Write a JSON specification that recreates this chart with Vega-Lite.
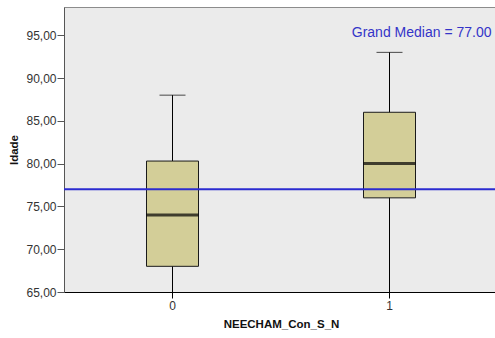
{
  "$schema": "https://vega.github.io/schema/vega-lite/v6.json",
  "width": 434,
  "height": 285,
  "autosize": {"type": "none"},
  "padding": {"left": 64, "top": 7, "right": 0, "bottom": 46},
  "background": "#ffffff",
  "config": {
    "font": "Liberation Sans",
    "view": {"fill": "#ebebeb", "stroke": "#8c8c8c", "strokeWidth": 1},
    "axis": {
      "labelFont": "Liberation Sans",
      "titleFont": "Liberation Sans",
      "labelFontSize": 12,
      "labelColor": "#333333",
      "titleFontSize": 11.5,
      "titleFontWeight": "bold",
      "titleColor": "#111111",
      "grid": false,
      "tickSize": 7
    }
  },
  "datasets": {
    "boxes": [
      {"grupo": "0", "lower": 65, "q1": 68, "median": 74, "q3": 80.3, "upper": 88},
      {"grupo": "1", "lower": 65, "q1": 76, "median": 80, "q3": 86, "upper": 93}
    ],
    "grand": [
      {"grupo": "1", "median": 77}
    ]
  },
  "layer": [
    {
      "data": {"name": "boxes"},
      "mark": {"type": "rule", "color": "#000000", "strokeWidth": 1},
      "encoding": {
        "x": {
          "field": "grupo",
          "type": "nominal",
          "scale": {"type": "band", "domain": ["0", "1"], "paddingInner": 0, "paddingOuter": 0},
          "axis": {
            "title": "NEECHAM_Con_S_N",
            "labelAngle": 0,
            "labelPadding": 2,
            "titlePadding": 7,
            "domainColor": "#000000",
            "tickColor": "#000000",
            "tickSize": 6
          }
        },
        "y": {
          "field": "lower",
          "type": "quantitative",
          "scale": {"domain": [65, 98.3], "nice": false, "zero": false},
          "axis": {
            "title": "Idade",
            "values": [65, 70, 75, 80, 85, 90, 95],
            "labelExpr": "replace(format(datum.value, '.2f'), '.', ',')",
            "domainColor": "#555555",
            "tickColor": "#555555",
            "labelPadding": 1,
            "titlePadding": 6
          }
        },
        "y2": {"field": "upper"}
      }
    },
    {
      "data": {"name": "boxes"},
      "mark": {"type": "tick", "color": "#000000", "size": 26, "thickness": 1, "orient": "horizontal"},
      "encoding": {
        "x": {"field": "grupo", "type": "nominal"},
        "y": {"field": "upper", "type": "quantitative"}
      }
    },
    {
      "data": {"name": "boxes"},
      "mark": {"type": "bar", "size": 52, "fill": "#d3ce98", "stroke": "#1a1a1a", "strokeWidth": 1},
      "encoding": {
        "x": {"field": "grupo", "type": "nominal"},
        "y": {"field": "q1", "type": "quantitative"},
        "y2": {"field": "q3"}
      }
    },
    {
      "data": {"name": "boxes"},
      "mark": {"type": "tick", "color": "#000000", "size": 52, "thickness": 3, "orient": "horizontal"},
      "encoding": {
        "x": {"field": "grupo", "type": "nominal"},
        "y": {"field": "median", "type": "quantitative"}
      }
    },
    {
      "data": {"name": "grand"},
      "mark": {"type": "rule", "color": "#2b2bd0", "strokeWidth": 2},
      "encoding": {
        "y": {"field": "median", "type": "quantitative"}
      }
    },
    {
      "data": {"name": "grand"},
      "transform": [
        {"calculate": "'Grand Median = ' + format(datum.median, '.2f')", "as": "rotulo"}
      ],
      "mark": {"type": "text", "color": "#3434c8", "fontSize": 14, "align": "right", "baseline": "middle", "dx": 102},
      "encoding": {
        "x": {"field": "grupo", "type": "nominal"},
        "y": {"datum": 95.3, "type": "quantitative"},
        "text": {"field": "rotulo"}
      }
    }
  ]
}
